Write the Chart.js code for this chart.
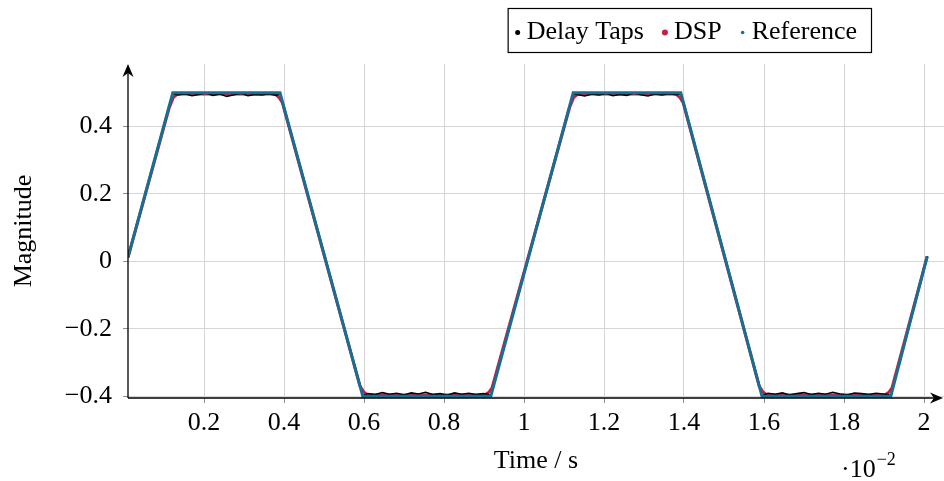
<!DOCTYPE html>
<html>
<head>
<meta charset="utf-8">
<script src="https://cdn.jsdelivr.net/npm/chart.js@4.4.0/dist/chart.umd.min.js"></script>
<style>
	html, body { margin: 0; padding: 0; background: #fff; }
</style>
</head>
<body>
<canvas id="chart" width="944" height="481"></canvas>
<script>
(function(){
	"use strict";

	// x values are in units of 10^-2 s
	const xTicks = [0.2, 0.4, 0.6, 0.8, 1, 1.2, 1.4, 1.6, 1.8, 2];
	const yTicks = [-0.4, -0.2, 0, 0.2, 0.4];

	// Reference (ideal trapezoid)
	const refTime = [0.01, 0.122, 0.39, 0.597, 0.917, 1.123, 1.392, 1.595, 1.917, 2.008];
	const refMag  = [0.012, 0.5, 0.5, -0.4, -0.4, 0.5, 0.5, -0.4, -0.4, 0.015];

	// DSP output (corners slightly rounded)
	const dspTime = [0.01, 0.113, 0.123, 0.133, 0.378, 0.388, 0.396, 0.59, 0.6, 0.61, 0.902, 0.912, 0.92,
		1.114, 1.124, 1.134, 1.38, 1.39, 1.398, 1.588, 1.598, 1.608, 1.902, 1.912, 1.92, 2.008];
	const dspMag  = [0.012, 0.455, 0.485, 0.496, 0.496, 0.485, 0.47, -0.37, -0.388, -0.396, -0.396, -0.388, -0.375,
		0.456, 0.485, 0.496, 0.496, 0.485, 0.47, -0.37, -0.388, -0.396, -0.396, -0.388, -0.375, 0.015];

	// Delay taps (noisy plateaus)
	const delayTime = [0.01, 0.05, 0.09, 0.122,
		0.135, 0.152, 0.17, 0.187, 0.205, 0.222, 0.24, 0.257, 0.275, 0.292, 0.31, 0.327, 0.345, 0.362, 0.38,
		0.39, 0.45, 0.52, 0.597,
		0.61, 0.628, 0.646, 0.664, 0.682, 0.7, 0.718, 0.736, 0.754, 0.772, 0.79, 0.808, 0.826, 0.844, 0.862, 0.88, 0.898, 0.91,
		0.917, 0.97, 1.04, 1.123,
		1.135, 1.152, 1.17, 1.187, 1.205, 1.222, 1.24, 1.257, 1.275, 1.292, 1.31, 1.327, 1.345, 1.362, 1.38,
		1.392, 1.45, 1.52, 1.595,
		1.61, 1.628, 1.646, 1.664, 1.682, 1.7, 1.718, 1.736, 1.754, 1.772, 1.79, 1.808, 1.826, 1.844, 1.862, 1.88, 1.898, 1.91,
		1.917, 1.96, 2.008];
	const delayMag = [0.012, 0.186, 0.36, 0.497,
		0.493, 0.497, 0.491, 0.495, 0.499, 0.492, 0.496, 0.489, 0.494, 0.498, 0.491, 0.495, 0.493, 0.497, 0.492,
		0.497, 0.239, -0.066, -0.398,
		-0.392, -0.395, -0.389, -0.394, -0.391, -0.396, -0.39, -0.393, -0.388, -0.395, -0.392, -0.397, -0.39, -0.394, -0.391, -0.395, -0.392, -0.394,
		-0.398, -0.168, 0.138, 0.497,
		0.494, 0.49, 0.496, 0.493, 0.498, 0.491, 0.495, 0.492, 0.499, 0.494, 0.49, 0.496, 0.493, 0.497, 0.494,
		0.497, 0.243, -0.067, -0.398,
		-0.391, -0.394, -0.39, -0.396, -0.392, -0.389, -0.395, -0.391, -0.394, -0.388, -0.393, -0.396, -0.39, -0.392, -0.395, -0.391, -0.393, -0.395,
		-0.398, -0.204, 0.015];

	const FONT = '"Liberation Serif", "Times New Roman", serif';
	const SIZE = 26;
	const teal = '#176f93';
	const crimson = '#c81e42';

	function toPoints( xs, ys ) {
		return xs.map(function( x, i ) { return { x: x, y: ys[i] }; });
	}

	function fmt( v ) {
		if ( v < 0 ) return '\u2212' + String(Math.abs(v));
		return String(v);
	}

	function stealth( ctx, tx, ty, dx, dy ) {
		// arrow head with tip at (tx,ty) pointing along (dx,dy)
		var len = 13, half = 5.5, notch = 9;
		var px = -dy, py = dx;
		ctx.beginPath();
		ctx.moveTo(tx, ty);
		ctx.lineTo(tx - dx * len + px * half, ty - dy * len + py * half);
		ctx.lineTo(tx - dx * notch, ty - dy * notch);
		ctx.lineTo(tx - dx * len - px * half, ty - dy * len - py * half);
		ctx.closePath();
		ctx.fill();
	}

	const axisPlugin = {
		id: 'arrow_axes',
		afterDraw: function( chart ) {
			const ctx = chart.ctx;
			const { left, right, top, bottom } = chart.chartArea;
			ctx.save();
			ctx.strokeStyle = '#000';
			ctx.fillStyle = '#000';
			ctx.lineWidth = 1.3;
			ctx.beginPath();
			ctx.moveTo(left, bottom);
			ctx.lineTo(right - 6, bottom);
			ctx.moveTo(left, bottom);
			ctx.lineTo(left, top + 6);
			ctx.stroke();
			stealth(ctx, right - 1, bottom, 1, 0);
			stealth(ctx, left, top, 0, -1);

			// scale multiplier
			ctx.font = SIZE + 'px ' + FONT;
			ctx.textBaseline = 'alphabetic';
			ctx.textAlign = 'left';
			var s = '\u00b710';
			ctx.fillText(s, 841, 477);
			var w = ctx.measureText(s).width;
			ctx.font = '18px ' + FONT;
			ctx.fillText('\u22122', 841 + w + 1, 465);
			ctx.restore();
		}
	};

	const legendPlugin = {
		id: 'box_legend',
		afterDraw: function( chart ) {
			const ctx = chart.ctx;
			const sets = chart.data.datasets;
			ctx.save();
			ctx.font = SIZE + 'px ' + FONT;
			ctx.textBaseline = 'alphabetic';
			ctx.textAlign = 'left';
			var widths = sets.map(function( d ) { return ctx.measureText(d.label).width; });
			var textGap = 9, itemGap = 21, boxRight = 871, padR = 14, padL = 10;
			var total = 0;
			widths.forEach(function( w, i ) {
				total += textGap + w + ( i < widths.length - 1 ? itemGap : 0 );
			});
			var boxLeft = boxRight - padR - total - padL;
			ctx.strokeStyle = '#000';
			ctx.lineWidth = 1.2;
			ctx.strokeRect(boxLeft + 0.5, 8.5, boxRight - boxLeft, 44);
			var x = boxLeft + padL;
			sets.forEach(function( d, i ) {
				ctx.fillStyle = d.legendDot;
				ctx.beginPath();
				ctx.arc(x, 32.5, d.legendRadius, 0, Math.PI * 2);
				ctx.fill();
				ctx.fillStyle = '#000';
				ctx.fillText(d.label, x + textGap, 38.5);
				x += textGap + widths[i] + itemGap;
			});
			ctx.restore();
		}
	};

	const config = {
		type: 'line',
		data: {
			datasets: [{
				label: 'Delay Taps',
				data: toPoints(delayTime, delayMag),
				borderColor: '#000',
				borderWidth: 1.6,
				pointRadius: 0,
				order: 2,
				legendDot: '#000',
				legendRadius: 2.5
			}, {
				label: 'DSP',
				data: toPoints(dspTime, dspMag),
				borderColor: crimson,
				borderWidth: 3,
				pointRadius: 0,
				order: 3,
				legendDot: crimson,
				legendRadius: 3
			}, {
				label: 'Reference',
				data: toPoints(refTime, refMag),
				borderColor: teal,
				borderWidth: 3,
				pointRadius: 0,
				order: 1,
				legendDot: teal,
				legendRadius: 1.8
			}]
		},
		options: {
			responsive: false,
			animation: false,
			layout: { padding: { top: 64, right: 0, bottom: 0, left: 0 } },
			plugins: {
				legend: { display: false },
				tooltip: { enabled: false }
			},
			scales: {
				x: {
					type: 'linear',
					min: 0.01,
					max: 2.05,
					afterFit: function( scale ) { scale.height = 83; },
					afterBuildTicks: function( scale ) {
						scale.ticks = xTicks.map(function( v ) { return { value: v }; });
					},
					ticks: {
						color: '#000',
						font: { family: FONT, size: SIZE },
						padding: 5,
						maxRotation: 0,
						autoSkip: false,
						callback: function( v ) { return fmt(v); }
					},
					grid: { color: '#d6d6d6', tickColor: '#909090', tickLength: 5, lineWidth: 1 },
					border: { display: false },
					title: {
						display: true,
						text: 'Time / s',
						color: '#000',
						font: { family: FONT, size: SIZE },
						padding: { top: 0, bottom: 4 }
					}
				},
				y: {
					type: 'linear',
					min: -0.405,
					max: 0.585,
					afterFit: function( scale ) { scale.width = 128; },
					afterBuildTicks: function( scale ) {
						scale.ticks = yTicks.map(function( v ) { return { value: v }; });
					},
					ticks: {
						color: '#000',
						font: { family: FONT, size: SIZE },
						padding: 11,
						autoSkip: false,
						callback: function( v ) { return fmt(v); }
					},
					grid: { color: '#d6d6d6', tickColor: '#909090', tickLength: 5, lineWidth: 1 },
					border: { display: false },
					title: {
						display: true,
						text: 'Magnitude',
						color: '#000',
						font: { family: FONT, size: SIZE },
						padding: { top: 9, bottom: 0 }
					}
				}
			}
		},
		plugins: [axisPlugin, legendPlugin]
	};

	new Chart(document.getElementById('chart').getContext('2d'), config);
})();
</script>
</body>
</html>
